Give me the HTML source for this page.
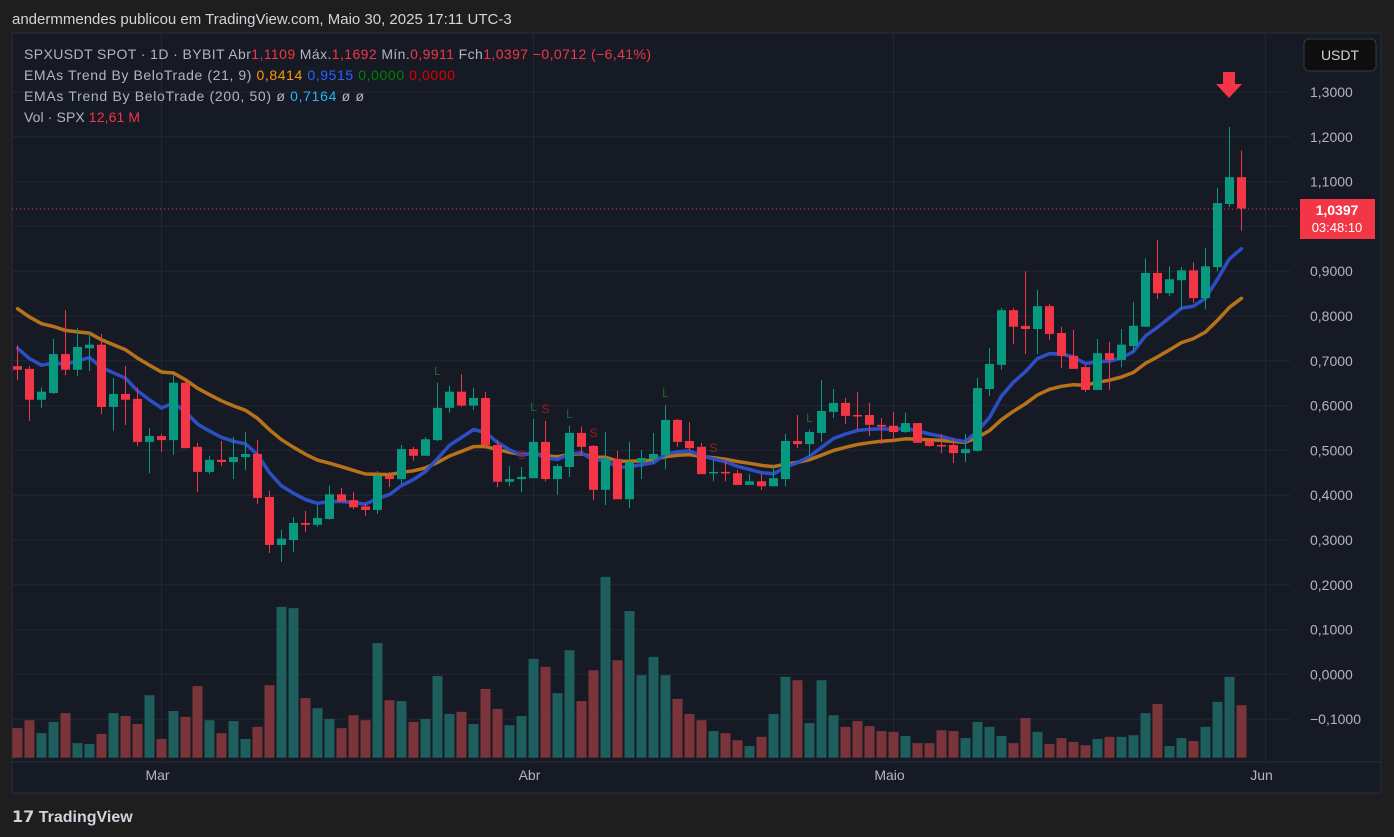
<!DOCTYPE html>
<html><head><meta charset="utf-8">
<style>
html,body{margin:0;padding:0;background:#1e1e1e;}
svg{display:block;font-family:"Liberation Sans",sans-serif;}
</style></head>
<body>
<svg id="chart" width="1394" height="837" viewBox="0 0 1394 837" xmlns="http://www.w3.org/2000/svg">
  <rect x="0" y="0" width="1394" height="837" fill="#1e1e1e"/>
  <text x="12" y="24" fill="#d1d4dc" font-size="15">andermmendes publicou em TradingView.com, Maio 30, 2025 17:11 UTC-3</text>
  <rect x="12" y="33" width="1369" height="760" fill="#161a25" stroke="#2a2e39"/>
  <g id="grid"></g>
  <g id="volume"></g>
  <g id="ema"></g>
  <g id="candles"></g>
  <g id="signals"></g>
  <line x1="12" y1="209" x2="1300" y2="209" stroke="#f23645" stroke-width="1" stroke-dasharray="1,3"/>
  <g id="yaxis"></g>
  <g id="xaxis"></g>
  <rect x="1304" y="39" width="72" height="32" rx="5" fill="#0e0e0e" stroke="#363a45"/>
  <text x="1340" y="60" fill="#d1d4dc" font-size="14" text-anchor="middle">USDT</text>
  <polygon points="1223,72 1235,72 1235,84 1242,84 1229,98 1216,84 1223,84" fill="#f23645"/>
  <rect x="1300" y="199" width="75" height="40" fill="#f23645"/>
  <text x="1337" y="215" fill="#ffffff" font-size="14" font-weight="bold" text-anchor="middle">1,0397</text>
  <text x="1337" y="232" fill="#ffffff" font-size="13" text-anchor="middle">03:48:10</text>
  <g font-size="14">
    <text x="24" y="59" fill="#b2b5be" textLength="627" lengthAdjust="spacing">SPXUSDT SPOT · 1D · BYBIT  Abr<tspan fill="#f23645">1,1109</tspan>  Máx.<tspan fill="#f23645">1,1692</tspan>  Mín.<tspan fill="#f23645">0,9911</tspan>  Fch<tspan fill="#f23645">1,0397</tspan>  <tspan fill="#f23645">−0,0712 (−6,41%)</tspan></text>
    <text x="24" y="80" fill="#b2b5be" textLength="431" lengthAdjust="spacing">EMAs Trend By BeloTrade (21, 9)  <tspan fill="#ff9800">0,8414</tspan>  <tspan fill="#2962ff">0,9515</tspan>  <tspan fill="#008000">0,0000</tspan>  <tspan fill="#e00000">0,0000</tspan></text>
    <text x="24" y="101" fill="#b2b5be" textLength="340" lengthAdjust="spacing">EMAs Trend By BeloTrade (200, 50)  ø  <tspan fill="#29b6f6">0,7164</tspan>  ø  ø</text>
    <text x="24" y="122" fill="#b2b5be" textLength="116" lengthAdjust="spacing">Vol · SPX  <tspan fill="#f23645">12,61 M</tspan></text>
  </g>
  <text x="12" y="822" fill="#d1d4dc" font-size="16" font-weight="bold">𝟭𝟳 TradingView</text>
</svg>
<script>
const opens=[.688,.682,.613,.628,.715,.680,.728,.736,.597,.626,.615,.519,.532,.523,.651,.508,.452,.479,.474,.485,.492,.396,.289,.300,.338,.334,.347,.402,.389,.375,.367,.443,.436,.503,.488,.523,.595,.631,.600,.617,.512,.430,.436,.438,.519,.436,.463,.539,.510,.412,.481,.391,.474,.481,.490,.568,.521,.508,.449,.452,.449,.423,.431,.420,.436,.521,.514,.539,.586,.606,.579,.579,.557,.555,.541,.561,.521,.512,.512,.494,.499,.637,.691,.813,.778,.771,.822,.762,.711,.686,.635,.717,.702,.733,.776,.896,.851,.880,.902,.840,.909,1.050,1.110];
const highs=[.735,.688,.640,.749,.813,.773,.762,.760,.662,.688,.640,.550,.537,.668,.652,.517,.488,.521,.530,.541,.523,.410,.323,.351,.365,.378,.422,.416,.407,.380,.454,.452,.512,.508,.530,.651,.644,.670,.640,.631,.523,.465,.463,.570,.566,.469,.555,.553,.512,.541,.499,.519,.501,.539,.601,.570,.563,.517,.479,.481,.456,.447,.447,.467,.537,.579,.546,.657,.637,.617,.631,.606,.572,.586,.584,.561,.528,.537,.528,.537,.662,.728,.818,.818,.900,.858,.827,.776,.769,.690,.749,.742,.771,.831,.929,.969,.911,.909,.920,.951,1.086,1.222,1.169];
const lows=[.657,.566,.595,.626,.668,.666,.677,.581,.544,.557,.510,.449,.497,.490,.505,.407,.447,.465,.436,.456,.380,.271,.251,.273,.318,.329,.345,.386,.369,.354,.358,.418,.425,.477,.488,.521,.584,.597,.590,.503,.418,.420,.407,.438,.431,.401,.441,.488,.389,.378,.391,.371,.436,.469,.458,.508,.501,.447,.431,.431,.423,.423,.412,.420,.420,.505,.488,.519,.572,.559,.546,.532,.514,.519,.539,.517,.508,.494,.472,.474,.497,.621,.680,.738,.715,.715,.747,.684,.682,.630,.635,.635,.686,.720,.776,.838,.844,.815,.829,.815,.900,1.043,.990];
const closes=[.680,.613,.631,.715,.680,.731,.736,.597,.626,.613,.519,.532,.523,.651,.505,.452,.479,.474,.485,.492,.394,.289,.303,.338,.334,.349,.402,.386,.373,.367,.443,.436,.503,.488,.525,.595,.631,.600,.617,.512,.430,.436,.441,.519,.436,.465,.539,.508,.412,.481,.391,.474,.483,.492,.568,.519,.505,.447,.452,.449,.423,.431,.420,.438,.521,.514,.541,.588,.606,.577,.577,.557,.553,.541,.561,.517,.510,.510,.494,.503,.639,.693,.813,.776,.771,.822,.760,.711,.682,.635,.717,.702,.736,.778,.896,.851,.882,.902,.840,.911,1.052,1.110,1.040];
const volumes=[7.1,9.0,5.9,8.6,10.7,3.5,3.3,5.7,10.7,10.0,8.1,15.0,4.5,11.2,9.8,17.2,9.0,5.9,8.8,4.5,7.4,17.4,36.2,35.9,14.3,11.9,9.3,7.1,10.2,9.0,27.5,13.8,13.6,8.6,9.3,19.6,10.5,11.0,8.1,16.5,11.7,7.8,10.0,23.7,21.8,15.5,25.8,13.6,21.0,43.4,23.4,35.2,19.8,24.2,19.8,14.1,10.5,9.0,6.4,5.9,4.2,2.8,5.0,10.5,19.4,18.6,8.3,18.6,10.2,7.4,8.8,7.6,6.4,6.2,5.2,3.5,3.5,6.6,6.4,4.7,8.6,7.4,5.2,3.5,9.5,6.2,3.3,4.7,3.8,3.0,4.5,5.0,5.0,5.4,10.7,12.9,2.8,4.7,4.0,7.4,13.4,19.4,12.6];
const emaFastSeed=0.74;
const emaSlowSeed=0.83;
const emaFastPeriod=9;
const emaSlowPeriod=21;
const priceTicks=[1.3,1.2,1.1,1.0,0.9,0.8,0.7,0.6,0.5,0.4,0.3,0.2,0.1,0.0,-0.1];
const monthLabels=["Mar","Abr","Maio","Jun"];
const monthIndex=[12,43,73,104];
const signalIndex=[35,42,43,44,46,48,54,58,66];
const signalType=["L","S","L","S","L","S","L","S","L"];

const NS="http://www.w3.org/2000/svg";
function yS(p){return 92+(1.3-p)*448;}
function xS(i){return 17.5+12*i;}
function vH(v){return v/0.24;}
function mk(tag,attrs,parent){const e=document.createElementNS(NS,tag);for(const k in attrs)e.setAttribute(k,attrs[k]);parent.appendChild(e);return e;}
function fmt(p){const s=Math.abs(p).toFixed(4).replace('.',',');return (p<0?'−':'')+s;}

const grid=document.getElementById('grid');
const yaxis=document.getElementById('yaxis');
priceTicks.forEach(p=>{
  const l=mk('line',{x1:12,x2:1290,y1:yS(p),y2:yS(p),stroke:'#232733','stroke-width':1},grid);
  
  
  const t=mk('text',{x:1310,y:yS(p)+5,fill:'#b2b5be','font-size':14},yaxis);
  t.textContent=fmt(p);
  
  
});
const xaxis=document.getElementById('xaxis');
monthLabels.forEach((m,k)=>{
  const x=xS(monthIndex[k]);
  const l=mk('line',{x1:x,x2:x,y1:33,y2:762,stroke:'#232733','stroke-width':1},grid);
  
  
  const t=mk('text',{x:x-4,y:780,fill:'#b2b5be','font-size':14,'text-anchor':'middle'},xaxis);
  t.textContent=m;
  
  
});
const sep=mk('line',{x1:12,x2:1381,y1:762,y2:762,stroke:'#2a2e39'},grid);



const vol=document.getElementById('volume');
volumes.forEach((v,i)=>{
  const up=closes[i]>=opens[i];
  const h=vH(v);
  const r=mk('rect',{x:xS(i)-5,y:757.7-h,width:10,height:h,fill:up?'#1e5e5c':'#7b3439'},vol);
  
  
});

function ema(seed,period){const a=2/(period+1);let e=seed;return closes.map(c=>{e=e+a*(c-e);return e;});}
const emaG=document.getElementById('ema');
[[ema(emaSlowSeed,emaSlowPeriod),'#b8731a','ema-21-line'],[ema(emaFastSeed,emaFastPeriod),'#2d4fc6','ema-9-line']].forEach(([vals,col,name])=>{
  const d=vals.map((v,i)=>(i?'L':'M')+xS(i).toFixed(1)+','+yS(v).toFixed(1)).join(' ');
  const p=mk('path',{d:d,fill:'none',stroke:col,'stroke-width':3.5,'stroke-linejoin':'round','stroke-linecap':'round'},emaG);
  
  
});

const cg=document.getElementById('candles');
opens.forEach((o,i)=>{
  const c=closes[i],up=c>=o,col=up?'#089981':'#f23645',x=xS(i);
  const w=mk('line',{x1:x,x2:x,y1:yS(highs[i]),y2:yS(lows[i]),stroke:col,'stroke-width':1},cg);
  
  
  const top=yS(Math.max(o,c)),bot=yS(Math.min(o,c));
  const b=mk('rect',{x:x-4.5,y:top,width:9,height:Math.max(1.5,bot-top),fill:col},cg);
  
  
});

const sg=document.getElementById('signals');
signalIndex.forEach((idx,k)=>{
  const t=mk('text',{x:xS(idx),y:yS(highs[idx])-8,fill:signalType[k]==='L'?'#1b6b2a':'#a01c1c','font-size':12,'text-anchor':'middle'},sg);
  t.textContent=signalType[k];
  
  
});
</script>
</body></html>
